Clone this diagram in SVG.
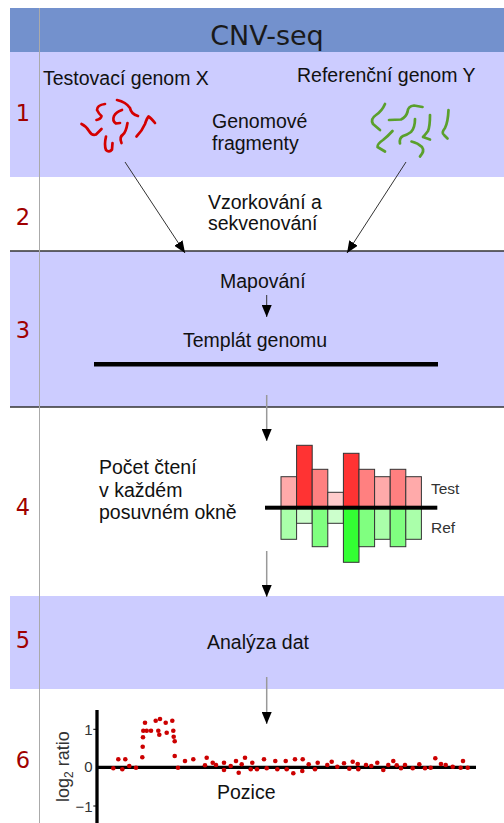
<svg xmlns="http://www.w3.org/2000/svg" width="504" height="823" viewBox="0 0 504 823">
<defs>
<style>
.t{font-family:"Liberation Sans",Arial,sans-serif;font-size:19.5px;fill:#111}
.num{font-family:"DejaVu Sans",sans-serif;font-size:22.5px;fill:#a00000;text-anchor:middle}
.band{fill:#ccccff}
.sep{stroke:#333;stroke-width:1.5}
.red{fill:none;stroke:#d40000;stroke-width:2.7;stroke-linecap:round;stroke-linejoin:round}
.grn{fill:none;stroke:#5aa02c;stroke-width:2.7;stroke-linecap:round;stroke-linejoin:round}
.bar{stroke:#333;stroke-width:1}
.lab{font-family:"Liberation Sans",Arial,sans-serif;font-size:15.5px;fill:#333}
.tick{font-family:"Liberation Sans",Arial,sans-serif;font-size:15px;fill:#333;text-anchor:end}
.dot{fill:#cc0000}
.diag{stroke:#333;stroke-width:1;fill:none}
.vert{stroke:#999;stroke-width:1.5;fill:none}
</style>
<marker id="ah" viewBox="0 0 12 10" refX="12" refY="5" markerWidth="12" markerHeight="10" markerUnits="userSpaceOnUse" orient="auto">
<path d="M0,0 L12,5 L0,10 Z" fill="#000"/>
</marker>
</defs>
<rect width="504" height="823" fill="#fff"/>

<g id="header">
<rect x="10" y="8" width="494" height="44" fill="#7391cd"/>
<text x="267" y="45" font-family="DejaVu Sans, sans-serif" font-size="27" fill="#1a1a1a" text-anchor="middle">CNV-seq</text>
</g>

<g id="row1">
<rect class="band" x="10" y="52" width="494" height="125"/>
<text class="num" x="23" y="121">1</text>
<text class="t" x="43" y="85">Testovací genom X</text>
<text class="t" x="297" y="82">Referenční genom Y</text>
<text class="t" x="212" y="128">Genomové</text>
<text class="t" x="212" y="149.5">fragmenty</text>
<g id="test-fragments">
<path class="red" d="M105,104 Q97,105 97,110 Q99,114 101.5,116 Q101,119 96.5,120"/>
<path class="red" d="M117,100 Q126,102 130,108 Q131,114 138,116"/>
<path class="red" d="M122,110 Q116,112 114,116 Q112,121 116,123.5 L120,123"/>
<path class="red" d="M81.5,124 Q86,126 89,131 Q92,136 96,134.5 L101.5,129"/>
<path class="red" d="M106,136.5 Q104,145 106,150 Q109,153 112,149.5 L112.5,143"/>
<path class="red" d="M127.5,123 Q126,132 123,134.5 Q119,137 121.5,143"/>
<path class="red" d="M136.5,136.5 Q142,131 145,124 Q147,118 148.5,116.5 Q151,118 155,123"/>
</g>
<g id="ref-fragments">
<path class="grn" d="M385,104 Q382,111 376,115 Q370,119 373,124 L380,130"/>
<path class="grn" d="M389,120 L401,119.5 Q406,117 407.5,112 Q408,106 414,105.5 L422.5,107"/>
<path class="grn" d="M415,119 Q415,128 411,132 Q407,135 403,136 Q399,138 400,143.5"/>
<path class="grn" d="M430,115 Q430,126 428,131 Q425,135 423,137 L430,139.5"/>
<path class="grn" d="M448.5,110 Q448,122 445,128 Q441,133 444,135 L447.5,138.5"/>
<path class="grn" d="M392.5,131 Q388,136 383,140 Q377,144 377.5,147 L385,151.5"/>
<path class="grn" d="M411.5,141.5 Q418,143 422,147 Q425,151 420,156.5"/>
</g>
</g>

<g id="row2">
<text class="num" x="23" y="225">2</text>
<text class="t" x="208" y="208.5">Vzorkování a</text>
<text class="t" x="208" y="230">sekvenování</text>
</g>

<g id="row3">
<rect class="band" x="10" y="251" width="494" height="156"/>
<line class="sep" x1="10" y1="251" x2="504" y2="251"/>
<text class="num" x="23" y="338">3</text>
<text class="t" x="220" y="287.5">Mapování</text>
<text class="t" x="183" y="347">Templát genomu</text>
<rect x="94" y="362" width="344" height="4.5" fill="#000"/>
</g>

<g id="row4">
<line class="sep" x1="10" y1="407" x2="504" y2="407"/>
<text class="num" x="23" y="515">4</text>
<text class="t" x="99" y="474">Počet čtení</text>
<text class="t" x="99" y="496.7">v každém</text>
<text class="t" x="99" y="519">posuvném okně</text>
<g id="bars">
<rect class="bar" x="281" y="476.7" width="15.6" height="31" fill="#ffaaaa"/>
<rect class="bar" x="296.6" y="445.3" width="15.6" height="62.4" fill="#ff3333"/>
<rect class="bar" x="312.2" y="469.3" width="15.6" height="38.4" fill="#ff8080"/>
<rect class="bar" x="327.8" y="492.3" width="15.6" height="15.4" fill="#ffcccc"/>
<rect class="bar" x="343.4" y="453.3" width="15.6" height="54.4" fill="#ff3333"/>
<rect class="bar" x="359" y="469.3" width="15.6" height="38.4" fill="#ff8080"/>
<rect class="bar" x="374.6" y="476.7" width="15.6" height="31" fill="#ffaaaa"/>
<rect class="bar" x="390.2" y="469.3" width="15.6" height="38.4" fill="#ff8080"/>
<rect class="bar" x="405.8" y="476.7" width="15.6" height="31" fill="#ffaaaa"/>
<rect class="bar" x="281" y="507.7" width="15.6" height="31.6" fill="#aaffaa"/>
<rect class="bar" x="296.6" y="507.7" width="15.6" height="15.6" fill="#ccffcc"/>
<rect class="bar" x="312.2" y="507.7" width="15.6" height="39" fill="#80ff80"/>
<rect class="bar" x="327.8" y="507.7" width="15.6" height="15.6" fill="#ccffcc"/>
<rect class="bar" x="343.4" y="507.7" width="15.6" height="54.6" fill="#33ff33"/>
<rect class="bar" x="359" y="507.7" width="15.6" height="39" fill="#80ff80"/>
<rect class="bar" x="374.6" y="507.7" width="15.6" height="31.6" fill="#aaffaa"/>
<rect class="bar" x="390.2" y="507.7" width="15.6" height="39" fill="#80ff80"/>
<rect class="bar" x="405.8" y="507.7" width="15.6" height="31.6" fill="#aaffaa"/>
<rect x="265" y="505.7" width="172.3" height="4" fill="#000"/>
</g>
<text class="lab" x="431" y="494">Test</text>
<text class="lab" x="431" y="532.7">Ref</text>
</g>

<g id="row5">
<rect class="band" x="10" y="596" width="494" height="93"/>
<text class="num" x="23" y="648">5</text>
<text class="t" x="207" y="649.3">Analýza dat</text>
</g>

<g id="row6">
<text class="num" x="23" y="768">6</text>
<g id="plot">
<line x1="97" y1="710" x2="97" y2="823" stroke="#000" stroke-width="3.3"/>
<line x1="97" y1="767.3" x2="476" y2="767.3" stroke="#000" stroke-width="3.3"/>
<line x1="93.3" y1="729.3" x2="97" y2="729.3" stroke="#000" stroke-width="1"/>
<line x1="93.3" y1="806" x2="97" y2="806" stroke="#000" stroke-width="1"/>
<text class="tick" x="92.5" y="735">1</text>
<text class="tick" x="92.5" y="772">0</text>
<text class="tick" x="92.5" y="811.7">−1</text>
<text transform="translate(69,802) rotate(-90)" font-family="Liberation Sans, Arial, sans-serif" font-size="18" fill="#333">log<tspan font-size="12" dy="4">2</tspan><tspan dy="-4"> ratio</tspan></text>
<text class="t" x="217" y="799.3" font-size="19">Pozice</text>
<g id="dots">
<circle class="dot" cx="113.3" cy="768.3" r="2.3"/><circle class="dot" cx="118.3" cy="759.3" r="2.3"/><circle class="dot" cx="122.3" cy="769.3" r="2.3"/><circle class="dot" cx="125.3" cy="759.3" r="2.3"/><circle class="dot" cx="129.3" cy="766" r="2.3"/><circle class="dot" cx="136" cy="767.7" r="2.3"/><circle class="dot" cx="142.3" cy="757.3" r="2.3"/><circle class="dot" cx="142.7" cy="746.7" r="2.3"/><circle class="dot" cx="143" cy="737.3" r="2.3"/><circle class="dot" cx="143.3" cy="730.7" r="2.3"/><circle class="dot" cx="145" cy="722.7" r="2.3"/><circle class="dot" cx="146.7" cy="730.7" r="2.3"/><circle class="dot" cx="151" cy="730.7" r="2.3"/><circle class="dot" cx="155.7" cy="720.7" r="2.3"/><circle class="dot" cx="158.3" cy="730.7" r="2.3"/><circle class="dot" cx="159.3" cy="734.7" r="2.3"/><circle class="dot" cx="160" cy="719" r="2.3"/><circle class="dot" cx="165.7" cy="722.7" r="2.3"/><circle class="dot" cx="166.7" cy="732.7" r="2.3"/><circle class="dot" cx="172.3" cy="720.7" r="2.3"/><circle class="dot" cx="173.3" cy="730.7" r="2.3"/><circle class="dot" cx="173.7" cy="736.7" r="2.3"/><circle class="dot" cx="174.7" cy="741.3" r="2.3"/><circle class="dot" cx="174.7" cy="756" r="2.3"/><circle class="dot" cx="178" cy="767.7" r="2.3"/><circle class="dot" cx="185" cy="761" r="2.3"/><circle class="dot" cx="193.3" cy="759.3" r="2.3"/><circle class="dot" cx="205" cy="765.3" r="2.3"/><circle class="dot" cx="206.7" cy="757.7" r="2.3"/><circle class="dot" cx="212.7" cy="762.7" r="2.3"/><circle class="dot" cx="216" cy="765" r="2.3"/><circle class="dot" cx="224" cy="762.7" r="2.3"/><circle class="dot" cx="224" cy="770" r="2.3"/><circle class="dot" cx="230.7" cy="766" r="2.3"/><circle class="dot" cx="236" cy="761" r="2.3"/><circle class="dot" cx="238.7" cy="772.7" r="2.3"/><circle class="dot" cx="241.7" cy="764.3" r="2.3"/><circle class="dot" cx="245" cy="757.7" r="2.3"/><circle class="dot" cx="250.7" cy="769.3" r="2.3"/><circle class="dot" cx="252.3" cy="762.7" r="2.3"/><circle class="dot" cx="257" cy="769.3" r="2.3"/><circle class="dot" cx="264" cy="759.3" r="2.3"/><circle class="dot" cx="266.7" cy="768.3" r="2.3"/><circle class="dot" cx="275.3" cy="761" r="2.3"/><circle class="dot" cx="277.3" cy="769.3" r="2.3"/><circle class="dot" cx="285.7" cy="761" r="2.3"/><circle class="dot" cx="286.7" cy="769.3" r="2.3"/><circle class="dot" cx="293.3" cy="773.3" r="2.3"/><circle class="dot" cx="295" cy="759.3" r="2.3"/><circle class="dot" cx="302.7" cy="759.3" r="2.3"/><circle class="dot" cx="302.3" cy="771" r="2.3"/><circle class="dot" cx="308.7" cy="764.3" r="2.3"/><circle class="dot" cx="315" cy="769.3" r="2.3"/><circle class="dot" cx="317.7" cy="762.7" r="2.3"/><circle class="dot" cx="327.3" cy="765" r="2.3"/><circle class="dot" cx="331.7" cy="761.7" r="2.3"/><circle class="dot" cx="337.3" cy="766.7" r="2.3"/><circle class="dot" cx="344" cy="763.3" r="2.3"/><circle class="dot" cx="349.3" cy="768.7" r="2.3"/><circle class="dot" cx="352.7" cy="761.7" r="2.3"/><circle class="dot" cx="357.7" cy="764" r="2.3"/><circle class="dot" cx="358.3" cy="769.3" r="2.3"/><circle class="dot" cx="366" cy="765" r="2.3"/><circle class="dot" cx="371.3" cy="766" r="2.3"/><circle class="dot" cx="377.3" cy="762.7" r="2.3"/><circle class="dot" cx="383.3" cy="770" r="2.3"/><circle class="dot" cx="388.3" cy="765" r="2.3"/><circle class="dot" cx="393.3" cy="761" r="2.3"/><circle class="dot" cx="396.7" cy="765.3" r="2.3"/><circle class="dot" cx="401" cy="768.3" r="2.3"/><circle class="dot" cx="405" cy="765" r="2.3"/><circle class="dot" cx="412.7" cy="768.3" r="2.3"/><circle class="dot" cx="419.3" cy="764.3" r="2.3"/><circle class="dot" cx="425" cy="768.3" r="2.3"/><circle class="dot" cx="430.7" cy="767.7" r="2.3"/><circle class="dot" cx="435.3" cy="758.3" r="2.3"/><circle class="dot" cx="441" cy="764" r="2.3"/><circle class="dot" cx="445.7" cy="765" r="2.3"/><circle class="dot" cx="452.7" cy="766.7" r="2.3"/><circle class="dot" cx="460.7" cy="767.7" r="2.3"/><circle class="dot" cx="463" cy="761" r="2.3"/><circle class="dot" cx="467.7" cy="767.7" r="2.3"/>
</g>
</g>
</g>

<line x1="39.5" y1="8" x2="39.5" y2="823" stroke="#aaa" stroke-width="1"/>

<g id="connectors">
<line class="diag" x1="125" y1="162" x2="185" y2="253" marker-end="url(#ah)"/>
<line class="diag" x1="406" y1="162" x2="347" y2="253" marker-end="url(#ah)"/>
<line class="diag" x1="266.7" y1="295" x2="266.7" y2="317" stroke="#555" marker-end="url(#ah)"/>
<line class="vert" x1="266.7" y1="395" x2="266.7" y2="441" marker-end="url(#ah)"/>
<line class="vert" x1="266.7" y1="551" x2="266.7" y2="597" marker-end="url(#ah)"/>
<line class="vert" x1="266.7" y1="677" x2="266.7" y2="724" marker-end="url(#ah)"/>
</g>
</svg>
